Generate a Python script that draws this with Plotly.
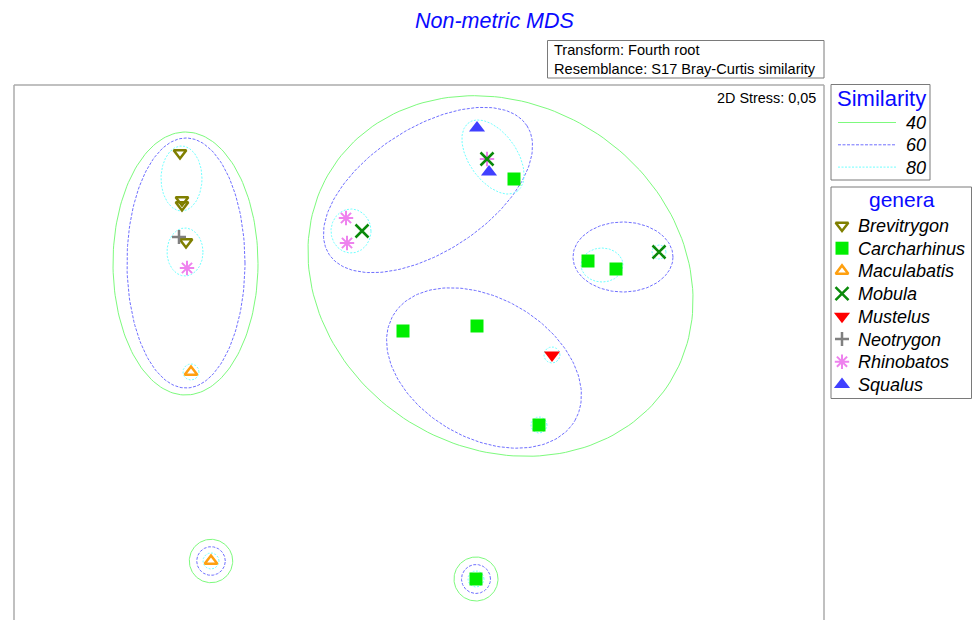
import numpy as np
import plotly.graph_objects as go

# ---------------- data (MDS coordinates) ----------------
genera = ["Brevitrygon", "Carcharhinus", "Maculabatis", "Rhinobatos",
          "Mobula", "Mustelus", "Neotrygon", "Squalus"]

point_genus = (["Brevitrygon"] * 4 + ["Carcharhinus"] * 7 + ["Maculabatis"] * 2 +
               ["Mobula"] * 3 + ["Mustelus"] + ["Neotrygon"] + ["Rhinobatos"] * 4 +
               ["Squalus"] * 2)
point_x = [-1.195, -1.185, -1.185, -1.165,
           0.475, -0.080, 0.290, 0.600, 0.845, 0.985, 0.285,
           -1.140, -1.040,
           0.340, -0.285, 1.200,
           0.665,
           -1.200,
           -1.160, 0.340, -0.365, -0.360,
           0.290, 0.350]
point_y = [0.995, 0.760, 0.735, 0.550,
           0.865, 0.105, 0.130, -0.365, 0.455, 0.415, -1.135,
           -0.100, -1.045,
           0.965, 0.605, 0.500,
           -0.015,
           0.575,
           0.420, 0.965, 0.670, 0.545,
           1.120, 0.900]

# similarity contours: level, centre, semi-axes, rotation (deg)
contour_level = [40, 40, 40, 40,
                 60, 60, 60, 60, 60, 60,
                 80, 80, 80, 80, 80, 80, 80, 80, 80, 80, 80]
contour_cx = [-1.1675, 0.4075, -1.040, 0.285,
              -1.165, 0.045, 0.325, 1.020, -1.040, 0.285,
              -1.1875, -1.170, -1.140, -0.340, 0.370, 0.915, 1.200, 0.665, 0.600, -1.040, 0.285]
contour_cy = [0.4425, 0.380, -1.045, -1.135,
              0.445, 0.810, -0.080, 0.475, -1.045, -1.135,
              0.8675, 0.500, -0.100, 0.605, 0.975, 0.435, 0.500, -0.015, -0.365, -1.045, -1.135]
contour_a = [0.3625, 1.000, 0.1085, 0.110,
             0.295, 0.590, 0.525, 0.250, 0.0715, 0.0725,
             0.1025, 0.090, 0.040, 0.100, 0.210, 0.105, 0.035, 0.040, 0.040, 0.040, 0.040]
contour_b = [0.6575, 0.860, 0.1085, 0.110,
             0.625, 0.310, 0.350, 0.175, 0.0715, 0.0725,
             0.1625, 0.120, 0.040, 0.110, 0.120, 0.085, 0.035, 0.040, 0.040, 0.040, 0.040]
contour_angle = [0, -32, 0, 0,
                 0, 33, -30, 0, 0, 0,
                 0, 0, 0, 0, -55, 0, 0, 0, 0, 0, 0]

similarity_levels = [40, 60, 80]

# ---------------- styles ----------------
level_style = {
    40: dict(color="#7dfa7d", dash="solid", width=1),
    60: dict(color="#6f6fff", dash="3px,1.5px", width=1),
    80: dict(color="#70ffff", dash="2px,1.5px", width=1),
}
genus_style = {
    "Brevitrygon": dict(symbol="triangle-down-open", color="#7f7f00", size=11, lw=2.5),
    "Carcharhinus": dict(symbol="square", color="#00ee00", size=13, lw=0),
    "Maculabatis": dict(symbol="triangle-up-open", color="#ffa010", size=11, lw=2.5),
    "Mobula": dict(symbol="x-thin-open", color="#0a8a0a", size=13, lw=2.5),
    "Mustelus": dict(symbol="triangle-down", color="#ff0000", size=14, lw=0),
    "Neotrygon": dict(symbol="cross-thin-open", color="#808080", size=10, lw=2.5),
    "Rhinobatos": dict(symbol="asterisk-open", color="#ee82ee", size=12, lw=2),
    "Squalus": dict(symbol="triangle-up", color="#4040ff", size=14, lw=0),
}
legend_order = ["Brevitrygon", "Carcharhinus", "Maculabatis", "Mobula",
                "Mustelus", "Neotrygon", "Rhinobatos", "Squalus"]

W, H = 973, 620
FONT = "Liberation Sans, Arial, sans-serif"


def px(x):
    return x / W


def py(y):
    return 1 - y / H


fig = go.Figure()

# contours
t = np.linspace(0, 2 * np.pi, 181)
for lev, cx, cy, a, b, ang in zip(contour_level, contour_cx, contour_cy,
                                  contour_a, contour_b, contour_angle):
    th = np.radians(ang)
    xs = cx + a * np.cos(th) * np.cos(t) - b * np.sin(th) * np.sin(t)
    ys = cy + a * np.sin(th) * np.cos(t) + b * np.cos(th) * np.sin(t)
    st = level_style[lev]
    fig.add_trace(go.Scatter(x=xs, y=ys, mode="lines", showlegend=False,
                             hoverinfo="skip",
                             line=dict(color=st["color"], dash=st["dash"], width=st["width"])))

# points
for g in genera:
    st = genus_style[g]
    xs = [x for x, gg in zip(point_x, point_genus) if gg == g]
    ys = [y for y, gg in zip(point_y, point_genus) if gg == g]
    fig.add_trace(go.Scatter(
        x=xs, y=ys, mode="markers", name=g, showlegend=False, cliponaxis=False,
        marker=dict(symbol=st["symbol"], size=st["size"], color=st["color"],
                    line=dict(color=st["color"], width=st["lw"]))))

# ---------------- legend symbols on an overlay pixel axis ----------------
leg_y0, leg_dy = 225.5, 22.7
for i, g in enumerate(legend_order):
    st = genus_style[g]
    fig.add_trace(go.Scatter(
        x=[842], y=[leg_y0 + i * leg_dy], xaxis="x2", yaxis="y2",
        mode="markers", showlegend=False, hoverinfo="skip", cliponaxis=False,
        marker=dict(symbol=st["symbol"], size=st["size"], color=st["color"],
                    line=dict(color=st["color"], width=st["lw"]))))

shapes = []
annotations = []

# plot frame (open at bottom, runs off the window)
frame_col = "#ababab"
shapes += [
    dict(type="line", xref="paper", yref="paper", x0=px(14), x1=px(14), y0=py(85), y1=py(630),
         line=dict(color=frame_col, width=1.5)),
    dict(type="line", xref="paper", yref="paper", x0=px(14), x1=px(824), y0=py(85), y1=py(85),
         line=dict(color=frame_col, width=1.5)),
    dict(type="line", xref="paper", yref="paper", x0=px(824), x1=px(824), y0=py(85), y1=py(630),
         line=dict(color=frame_col, width=1.5)),
]

box_col = "#7a7a7a"
# transform box
shapes.append(dict(type="rect", xref="paper", yref="paper", x0=px(547.5), x1=px(824), y0=py(40.5),
                   y1=py(78), line=dict(color=box_col, width=1)))
annotations += [
    dict(text="Transform: Fourth root", x=px(552), y=py(50.5), xanchor="left", yanchor="middle"),
    dict(text="Resemblance: S17 Bray-Curtis similarity", x=px(552), y=py(68.5),
         xanchor="left", yanchor="middle"),
]
for a in annotations:
    a.update(xref="paper", yref="paper", showarrow=False, font=dict(family=FONT, size=14.6, color="black"))

annotations.append(dict(text="2D Stress: 0,05", x=px(818), y=py(98), xref="paper", yref="paper",
                        xanchor="right", yanchor="middle", showarrow=False,
                        font=dict(family=FONT, size=14.4, color="black")))

# title
annotations.append(dict(text="<i>Non-metric MDS</i>", x=px(495), y=py(21), xref="paper", yref="paper",
                        xanchor="center", yanchor="middle", showarrow=False,
                        font=dict(family=FONT, size=21.5, color="#0a0aff")))

# similarity legend
shapes.append(dict(type="rect", xref="paper", yref="paper", x0=px(831), x1=px(930), y0=py(84.5),
                   y1=py(180), line=dict(color=box_col, width=1)))
annotations.append(dict(text="Similarity", x=px(881), y=py(98), xref="paper", yref="paper",
                        xanchor="center", yanchor="middle", showarrow=False,
                        font=dict(family=FONT, size=22, color="#0a0aff")))
for i, lev in enumerate(similarity_levels):
    yy = 122.5 + i * 22.3
    st = level_style[lev]
    shapes.append(dict(type="line", xref="paper", yref="paper", x0=px(838), x1=px(896),
                       y0=py(yy), y1=py(yy),
                       line=dict(color=st["color"], dash=st["dash"], width=1)))
    annotations.append(dict(text="<i>%d</i>" % lev, x=px(928), y=py(yy + 0.5), xref="paper", yref="paper",
                            xanchor="right", yanchor="middle", showarrow=False,
                            font=dict(family=FONT, size=18, color="black")))

# genera legend
shapes.append(dict(type="rect", xref="paper", yref="paper", x0=px(831), x1=px(971.5), y0=py(187),
                   y1=py(398.5), line=dict(color=box_col, width=1)))
annotations.append(dict(text="genera", x=px(902), y=py(200), xref="paper", yref="paper",
                        xanchor="center", yanchor="middle", showarrow=False,
                        font=dict(family=FONT, size=21, color="#0a0aff")))
for i, g in enumerate(legend_order):
    annotations.append(dict(text="<i>%s</i>" % g, x=px(856), y=py(leg_y0 + i * leg_dy + 0.5),
                            xref="paper", yref="paper", xanchor="left", yanchor="middle",
                            showarrow=False, font=dict(family=FONT, size=18, color="black")))

fig.update_layout(
    width=W, height=H,
    margin=dict(l=0, r=0, t=0, b=0),
    paper_bgcolor="white",
    plot_bgcolor="rgba(0,0,0,0)",
    showlegend=False,
    hovermode=False,
    xaxis=dict(domain=[px(14), px(824)], range=[-2.025, 2.025], visible=False, fixedrange=True),
    yaxis=dict(domain=[0, py(85)], range=[-1.34, 1.335], visible=False, fixedrange=True),
    xaxis2=dict(domain=[0, 1], range=[0, W], visible=False, anchor="y2", fixedrange=True),
    yaxis2=dict(domain=[0, 1], range=[H, 0], visible=False, anchor="x2", fixedrange=True),
    shapes=shapes,
    annotations=annotations,
)

fig.write_html("out.html", config={"displayModeBar": False, "staticPlot": True},
               post_script="document.body.style.margin='0';document.body.style.overflow='hidden';")
